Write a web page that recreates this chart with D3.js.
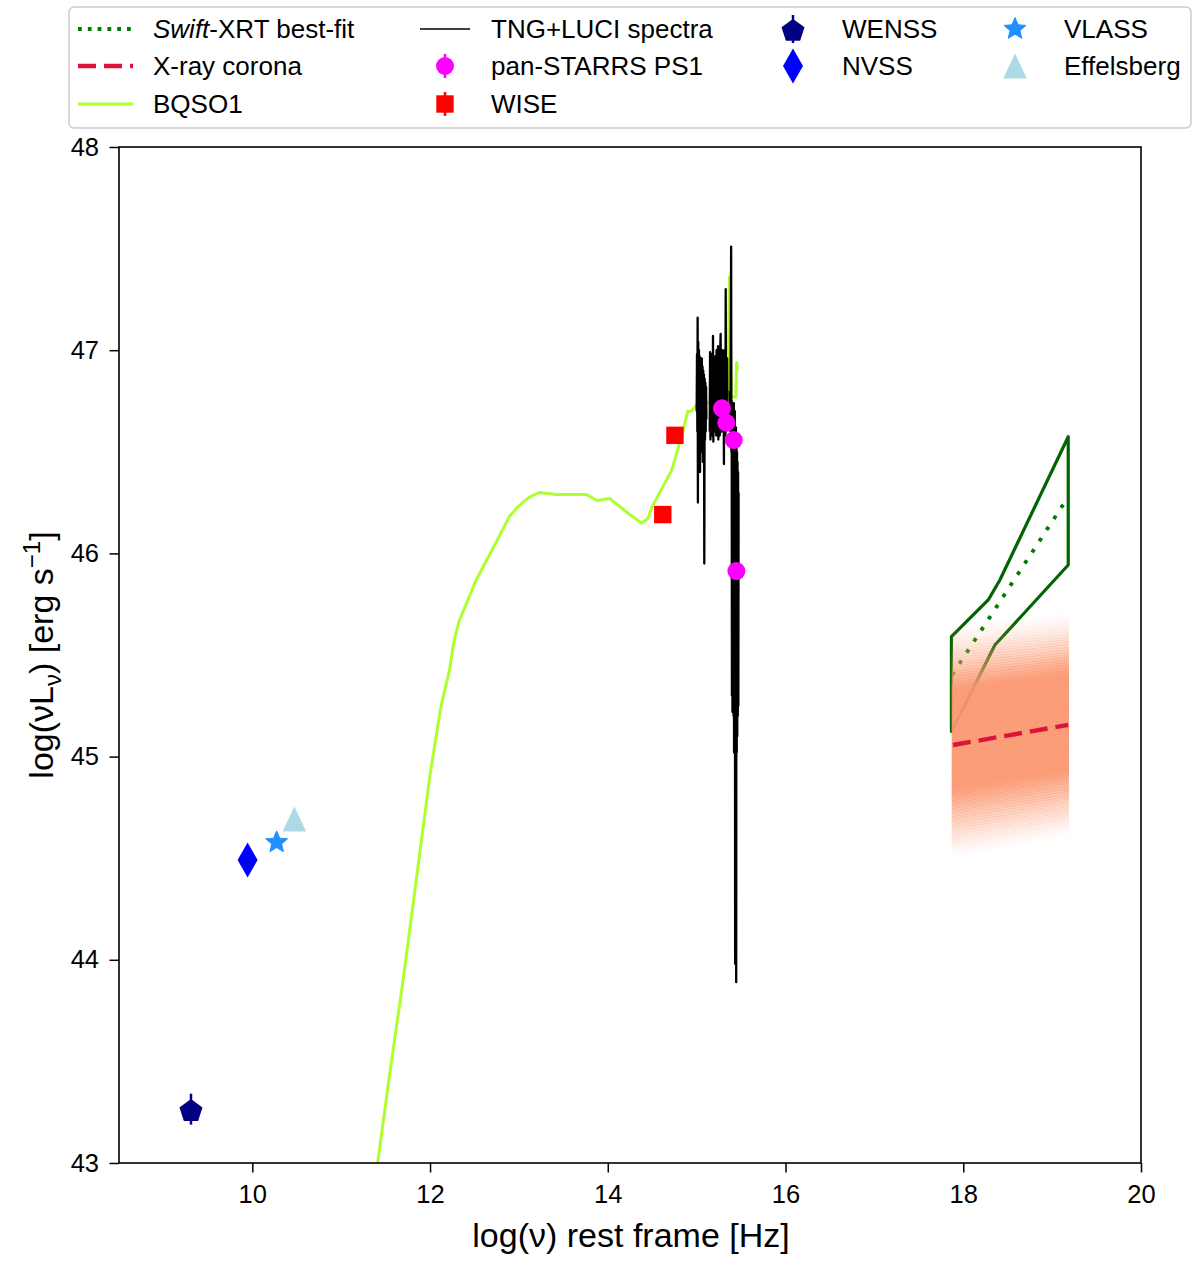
<!DOCTYPE html>
<html><head><meta charset="utf-8">
<script src="https://cdn.jsdelivr.net/npm/d3@7"></script>
<style>
body{margin:0;background:#fff}
svg{display:block}
text{font-family:"Liberation Sans",Arial,Helvetica,sans-serif;fill:#000}
</style>
</head><body>
<svg id="c" width="1200" height="1262"></svg>
<script>
// ---------------- DATA ----------------
const xTicks = [10, 12, 14, 16, 18, 20];
const yTicks = [43, 44, 45, 46, 47, 48];

// BQSO1 template (log nu, log nuLnu)
const bqso1X = [11.35, 11.41, 11.55, 11.70, 11.85, 12.00, 12.12, 12.22, 12.27, 12.33, 12.52, 12.75, 12.89, 12.97, 13.04, 13.13, 13.23, 13.42, 13.76, 13.88, 14.02, 14.08, 14.25, 14.38, 14.45, 14.50, 14.72, 14.84, 14.90, 14.94, 15.00, 15.11, 15.26, 15.35, 15.37, 15.39, 15.44, 15.45, 15.46];
const bqso1Y = [42.80, 43.00, 43.45, 43.91, 44.41, 44.91, 45.24, 45.43, 45.57, 45.67, 45.87, 46.06, 46.18, 46.22, 46.25, 46.28, 46.30, 46.29, 46.29, 46.26, 46.27, 46.25, 46.19, 46.15, 46.17, 46.23, 46.41, 46.59, 46.70, 46.70, 46.73, 46.74, 46.75, 46.76, 47.36, 46.77, 46.77, 46.94, 46.90];

// TNG+LUCI spectra (three chunks)
const specAX = [15.000, 15.004, 15.008, 15.011, 15.014, 15.018, 15.022, 15.026, 15.030, 15.034, 15.038, 15.042, 15.046, 15.050, 15.054, 15.058, 15.062, 15.066, 15.070, 15.074, 15.078, 15.082, 15.086, 15.090, 15.094, 15.098, 15.102, 15.106, 15.110];
const specAY = [46.70, 46.98, 46.60, 47.16, 46.25, 47.04, 46.55, 47.00, 46.62, 46.97, 46.40, 46.95, 46.58, 46.93, 46.50, 46.96, 46.64, 46.92, 46.45, 46.90, 46.60, 46.88, 45.95, 46.86, 46.56, 46.84, 46.60, 46.82, 46.66];
const specBX = [15.147, 15.151, 15.155, 15.159, 15.163, 15.167, 15.171, 15.175, 15.179, 15.184, 15.188, 15.192, 15.196, 15.200, 15.204, 15.208, 15.212, 15.216, 15.220, 15.224, 15.228, 15.232, 15.236, 15.240, 15.244, 15.248, 15.252, 15.256, 15.260, 15.264, 15.270, 15.274, 15.278, 15.282, 15.286, 15.290, 15.294, 15.298, 15.302, 15.307, 15.311, 15.315, 15.319, 15.323, 15.327, 15.331, 15.335, 15.339, 15.343, 15.347];
const specBY = [46.60, 46.99, 46.56, 46.96, 46.62, 46.98, 46.58, 46.94, 46.64, 47.07, 46.55, 46.95, 46.66, 46.93, 46.60, 46.97, 46.62, 46.96, 46.58, 47.00, 46.63, 46.95, 46.60, 47.02, 46.56, 46.98, 46.62, 46.96, 46.58, 46.99, 47.08, 46.60, 46.95, 46.60, 46.98, 46.62, 47.00, 46.62, 46.96, 46.44, 46.98, 46.60, 47.00, 46.58, 47.30, 46.60, 46.94, 46.64, 46.96, 46.62];
const specCX = [15.372, 15.380, 15.388, 15.391, 15.394, 15.397, 15.400, 15.403, 15.406, 15.409, 15.412, 15.415, 15.418, 15.421, 15.424, 15.427, 15.430, 15.433, 15.436, 15.439, 15.442, 15.445, 15.448, 15.451, 15.454, 15.457, 15.460, 15.463, 15.466, 15.469, 15.472];
const specCY = [46.80, 46.60, 47.51, 46.50, 46.75, 45.30, 46.70, 45.22, 46.72, 45.25, 46.68, 45.20, 46.74, 45.02, 46.65, 45.10, 46.70, 43.98, 46.60, 45.05, 46.62, 43.89, 46.55, 45.02, 46.50, 45.10, 46.45, 45.20, 46.40, 45.25, 46.30];

// Photometry
const ps1X = [15.285, 15.334, 15.417, 15.447];
const ps1Y = [46.714, 46.643, 46.558, 45.913];
const wiseX = [14.619, 14.756];
const wiseY = [46.191, 46.581];
const wenssX = [9.31], wenssY = [43.265], wenssErr = [0.076];
const nvssX = [9.947], nvssY = [44.491];
const vlassX = [10.274], vlassY = [44.578];
const effX = [10.473], effY = [44.693];

// Swift-XRT
const swiftUpperX = [17.867, 18.281, 18.412, 19.181];
const swiftUpperY = [45.590, 45.771, 45.869, 46.574];
const swiftLowerX = [17.867, 18.356, 19.181];
const swiftLowerY = [45.123, 45.549, 45.943];
const swiftFitX = [17.875, 19.170];
const swiftFitY = [45.402, 46.271];

// X-ray corona
const coronaX = [17.884, 19.181];
const coronaY = [45.057, 45.156];
const coronaBandX = [17.87, 19.19];
const coronaBandUpper = [45.66, 45.72];
const coronaBandLower = [44.49, 44.60];

const legendLabels = ["Swift-XRT best-fit", "X-ray corona", "BQSO1", "TNG+LUCI spectra", "pan-STARRS PS1", "WISE", "WENSS", "NVSS", "VLASS", "Effelsberg"];

// ---------------- DRAW ----------------
const svg = d3.select('#c');
const M = {l: 119, t: 147, r: 1141, b: 1163};
const x = d3.scaleLinear().domain([8.5, 20]).range([M.l, M.r]);
const y = d3.scaleLinear().domain([43, 48]).range([M.b, M.t]);

const defs = svg.append('defs');
defs.append('clipPath').attr('id', 'clip').append('rect')
  .attr('x', M.l).attr('y', M.t).attr('width', M.r - M.l).attr('height', M.b - M.t);

const plot = svg.append('g').attr('clip-path', 'url(#clip)');
const zip = (a, b) => a.map((v, i) => [v, b[i]]);
const line = d3.line().x(d => x(d[0])).y(d => y(d[1]));
const smooth = d3.line().x(d => x(d[0])).y(d => y(d[1])).curve(d3.curveMonotoneX);

// Swift-XRT envelope
const up = zip(swiftUpperX, swiftUpperY);
const lo = zip(swiftLowerX, swiftLowerY);
const env = up.concat(lo.slice().reverse());
plot.append('path').attr('d', line(env) + 'Z')
  .attr('fill', 'none').attr('stroke', '#006400').attr('stroke-width', 3.2).attr('stroke-linejoin', 'round');
plot.append('path').attr('d', line(zip(swiftFitX, swiftFitY)))
  .attr('fill', 'none').attr('stroke', '#007a00').attr('stroke-width', 3.8)
  .attr('stroke-dasharray', '3.8,9.5');

// Corona band (stack of faint lines)
const NB = 90;
const bandG = plot.append('g');
for (let i = 0; i <= NB; i++) {
  const t = i / NB;
  const yl = coronaBandUpper[0] + t * (coronaBandLower[0] - coronaBandUpper[0]);
  const yr = coronaBandUpper[1] + t * (coronaBandLower[1] - coronaBandUpper[1]);
  let a;
  if (t < 0.28) a = Math.pow(t / 0.28, 1.5);
  else if (t > 0.70) a = Math.pow((1 - t) / 0.30, 1.3);
  else a = 1;
  bandG.append('line')
    .attr('x1', x(coronaBandX[0])).attr('x2', x(coronaBandX[1]))
    .attr('y1', y(yl)).attr('y2', y(yr))
    .attr('stroke', '#fb9770').attr('stroke-width', 3.2)
    .attr('stroke-opacity', 0.93 * a);
}
plot.append('path').attr('d', line(zip(coronaX, coronaY)))
  .attr('fill', 'none').attr('stroke', '#dc143c').attr('stroke-width', 4.4)
  .attr('stroke-dasharray', '18,8');

// BQSO1
plot.append('path').attr('d', line(zip(bqso1X, bqso1Y)))
  .attr('fill', 'none').attr('stroke', '#adff2f').attr('stroke-width', 3).attr('stroke-linejoin', 'round');

// Spectra
[[specAX, specAY], [specBX, specBY], [specCX, specCY]].forEach(s => {
  plot.append('path').attr('d', line(zip(s[0], s[1])))
    .attr('fill', 'none').attr('stroke', '#000').attr('stroke-width', 2.3).attr('stroke-linejoin', 'round');
});

// marker shapes
function pentagon(r) {
  const p = [];
  for (let k = 0; k < 5; k++) {
    const a = -Math.PI / 2 + k * 2 * Math.PI / 5;
    p.push([r * Math.cos(a), r * Math.sin(a)]);
  }
  return 'M' + p.map(q => q.join(',')).join('L') + 'Z';
}
function star(r, ri) {
  const p = [];
  for (let k = 0; k < 10; k++) {
    const a = -Math.PI / 2 + k * Math.PI / 5;
    const rr = k % 2 === 0 ? r : ri;
    p.push([rr * Math.cos(a), rr * Math.sin(a)]);
  }
  return 'M' + p.map(q => q.join(',')).join('L') + 'Z';
}
const diamondPath = (w, h) => `M0,${-h}L${w},0L0,${h}L${-w},0Z`;
const trianglePath = (w, h) => `M0,${-h}L${w},${h}L${-w},${h}Z`;

// PS1
plot.selectAll('.ps1').data(zip(ps1X, ps1Y)).enter().append('circle')
  .attr('cx', d => x(d[0])).attr('cy', d => y(d[1])).attr('r', 9).attr('fill', '#ff00ff');
// WISE
plot.selectAll('.wise').data(zip(wiseX, wiseY)).enter().append('rect')
  .attr('x', d => x(d[0]) - 8.7).attr('y', d => y(d[1]) - 8.7).attr('width', 17.4).attr('height', 17.4).attr('fill', '#ff0000');
// WENSS
zip(wenssX, wenssY).forEach((d, i) => {
  plot.append('line').attr('x1', x(d[0])).attr('x2', x(d[0]))
    .attr('y1', y(d[1] + wenssErr[i])).attr('y2', y(d[1] - wenssErr[i]))
    .attr('stroke', '#000080').attr('stroke-width', 2.5);
  plot.append('path').attr('d', pentagon(12.1)).attr('transform', `translate(${x(d[0])},${y(d[1]) + 2})`).attr('fill', '#000080');
});
// NVSS
zip(nvssX, nvssY).forEach(d => {
  plot.append('path').attr('d', diamondPath(10, 17.5)).attr('transform', `translate(${x(d[0])},${y(d[1])})`).attr('fill', '#0000ff');
});
// VLASS
zip(vlassX, vlassY).forEach(d => {
  plot.append('path').attr('d', star(11.5, 5.2)).attr('transform', `translate(${x(d[0])},${y(d[1])})`)
    .attr('fill', '#1e90ff').attr('stroke', '#1e90ff').attr('stroke-width', 1).attr('stroke-linejoin', 'round');
});
// Effelsberg
zip(effX, effY).forEach(d => {
  plot.append('path').attr('d', trianglePath(11.8, 12.5)).attr('transform', `translate(${x(d[0])},${y(d[1])})`).attr('fill', '#add8e6');
});

// Axes
const gx = svg.append('g').attr('transform', `translate(0,${M.b})`)
  .call(d3.axisBottom(x).tickValues(xTicks).tickSize(9.5).tickPadding(12).tickFormat(d3.format('d')));
const gy = svg.append('g').attr('transform', `translate(${M.l},0)`)
  .call(d3.axisLeft(y).tickValues(yTicks).tickSize(9.5).tickPadding(10.5).tickFormat(d3.format('d')));
[gx, gy].forEach(g => {
  g.select('.domain').remove();
  g.selectAll('.tick line').attr('stroke', '#000').attr('stroke-width', 1.5);
  g.selectAll('.tick text').attr('font-size', 25.5).attr('font-family', '"Liberation Sans",Arial,sans-serif').attr('fill', '#000');
});
svg.append('rect').attr('x', M.l).attr('y', M.t).attr('width', M.r - M.l).attr('height', M.b - M.t)
  .attr('fill', 'none').attr('stroke', '#000').attr('stroke-width', 1.6);

// Axis labels
svg.append('text').attr('x', 631).attr('y', 1247).attr('text-anchor', 'middle').attr('font-size', 34)
  .text('log(ν) rest frame [Hz]');
const yl = svg.append('text').attr('transform', 'translate(53,655) rotate(-90)').attr('text-anchor', 'middle').attr('font-size', 34);
yl.append('tspan').text('log(νL');
yl.append('tspan').attr('font-size', 24).attr('dy', 8).text('ν');
yl.append('tspan').attr('dy', -8).text(') [erg s');
yl.append('tspan').attr('font-size', 24).attr('dy', -13).text('−1');
yl.append('tspan').attr('dy', 13).text(']');

// Legend
const lg = svg.append('g');
lg.append('rect').attr('x', 69).attr('y', 7).attr('width', 1122).attr('height', 121).attr('rx', 5)
  .attr('fill', '#fff').attr('fill-opacity', 0.8).attr('stroke', '#cccccc').attr('stroke-width', 1.5);
const rowsY = [29, 66, 104];
const colText = [153, 491, 842, 1064];
function ltext(col, row, i) {
  const t = lg.append('text').attr('x', colText[col]).attr('y', rowsY[row] + 9.2).attr('font-size', 26);
  if (i === 0) {
    t.append('tspan').attr('font-style', 'italic').text('Swift');
    t.append('tspan').text(legendLabels[0].slice(5));
  } else t.text(legendLabels[i]);
}
// col1
lg.append('line').attr('x1', 78).attr('x2', 133).attr('y1', rowsY[0]).attr('y2', rowsY[0])
  .attr('stroke', '#007a00').attr('stroke-width', 3.8).attr('stroke-dasharray', '3.8,6');
ltext(0, 0, 0);
lg.append('line').attr('x1', 78).attr('x2', 133).attr('y1', rowsY[1]).attr('y2', rowsY[1])
  .attr('stroke', '#dc143c').attr('stroke-width', 4.4).attr('stroke-dasharray', '18,8');
ltext(0, 1, 1);
lg.append('line').attr('x1', 78).attr('x2', 133).attr('y1', rowsY[2]).attr('y2', rowsY[2])
  .attr('stroke', '#adff2f').attr('stroke-width', 3);
ltext(0, 2, 2);
// col2
lg.append('line').attr('x1', 420).attr('x2', 470).attr('y1', rowsY[0]).attr('y2', rowsY[0])
  .attr('stroke', '#000').attr('stroke-width', 1.6);
ltext(1, 0, 3);
lg.append('line').attr('x1', 445).attr('x2', 445).attr('y1', rowsY[1] - 12).attr('y2', rowsY[1] + 12)
  .attr('stroke', '#ff00ff').attr('stroke-width', 2.5);
lg.append('circle').attr('cx', 445).attr('cy', rowsY[1]).attr('r', 9).attr('fill', '#ff00ff');
ltext(1, 1, 4);
lg.append('line').attr('x1', 445).attr('x2', 445).attr('y1', rowsY[2] - 12).attr('y2', rowsY[2] + 12)
  .attr('stroke', '#ff0000').attr('stroke-width', 2.5);
lg.append('rect').attr('x', 445 - 8.7).attr('y', rowsY[2] - 8.7).attr('width', 17.4).attr('height', 17.4).attr('fill', '#ff0000');
ltext(1, 2, 5);
// col3
lg.append('line').attr('x1', 793).attr('x2', 793).attr('y1', rowsY[0] - 14).attr('y2', rowsY[0] + 14)
  .attr('stroke', '#000080').attr('stroke-width', 2.5);
lg.append('path').attr('d', pentagon(12.1)).attr('transform', `translate(793,${rowsY[0] + 2})`).attr('fill', '#000080');
ltext(2, 0, 6);
lg.append('path').attr('d', diamondPath(10, 17.5)).attr('transform', `translate(793,${rowsY[1]})`).attr('fill', '#0000ff');
ltext(2, 1, 7);
// col4
lg.append('path').attr('d', star(11.5, 5.2)).attr('transform', `translate(1015,${rowsY[0]})`)
  .attr('fill', '#1e90ff').attr('stroke', '#1e90ff').attr('stroke-width', 1).attr('stroke-linejoin', 'round');
ltext(3, 0, 8);
lg.append('path').attr('d', trianglePath(11.8, 12.5)).attr('transform', `translate(1015,${rowsY[1]})`).attr('fill', '#add8e6');
ltext(3, 1, 9);
</script>
</body></html>
